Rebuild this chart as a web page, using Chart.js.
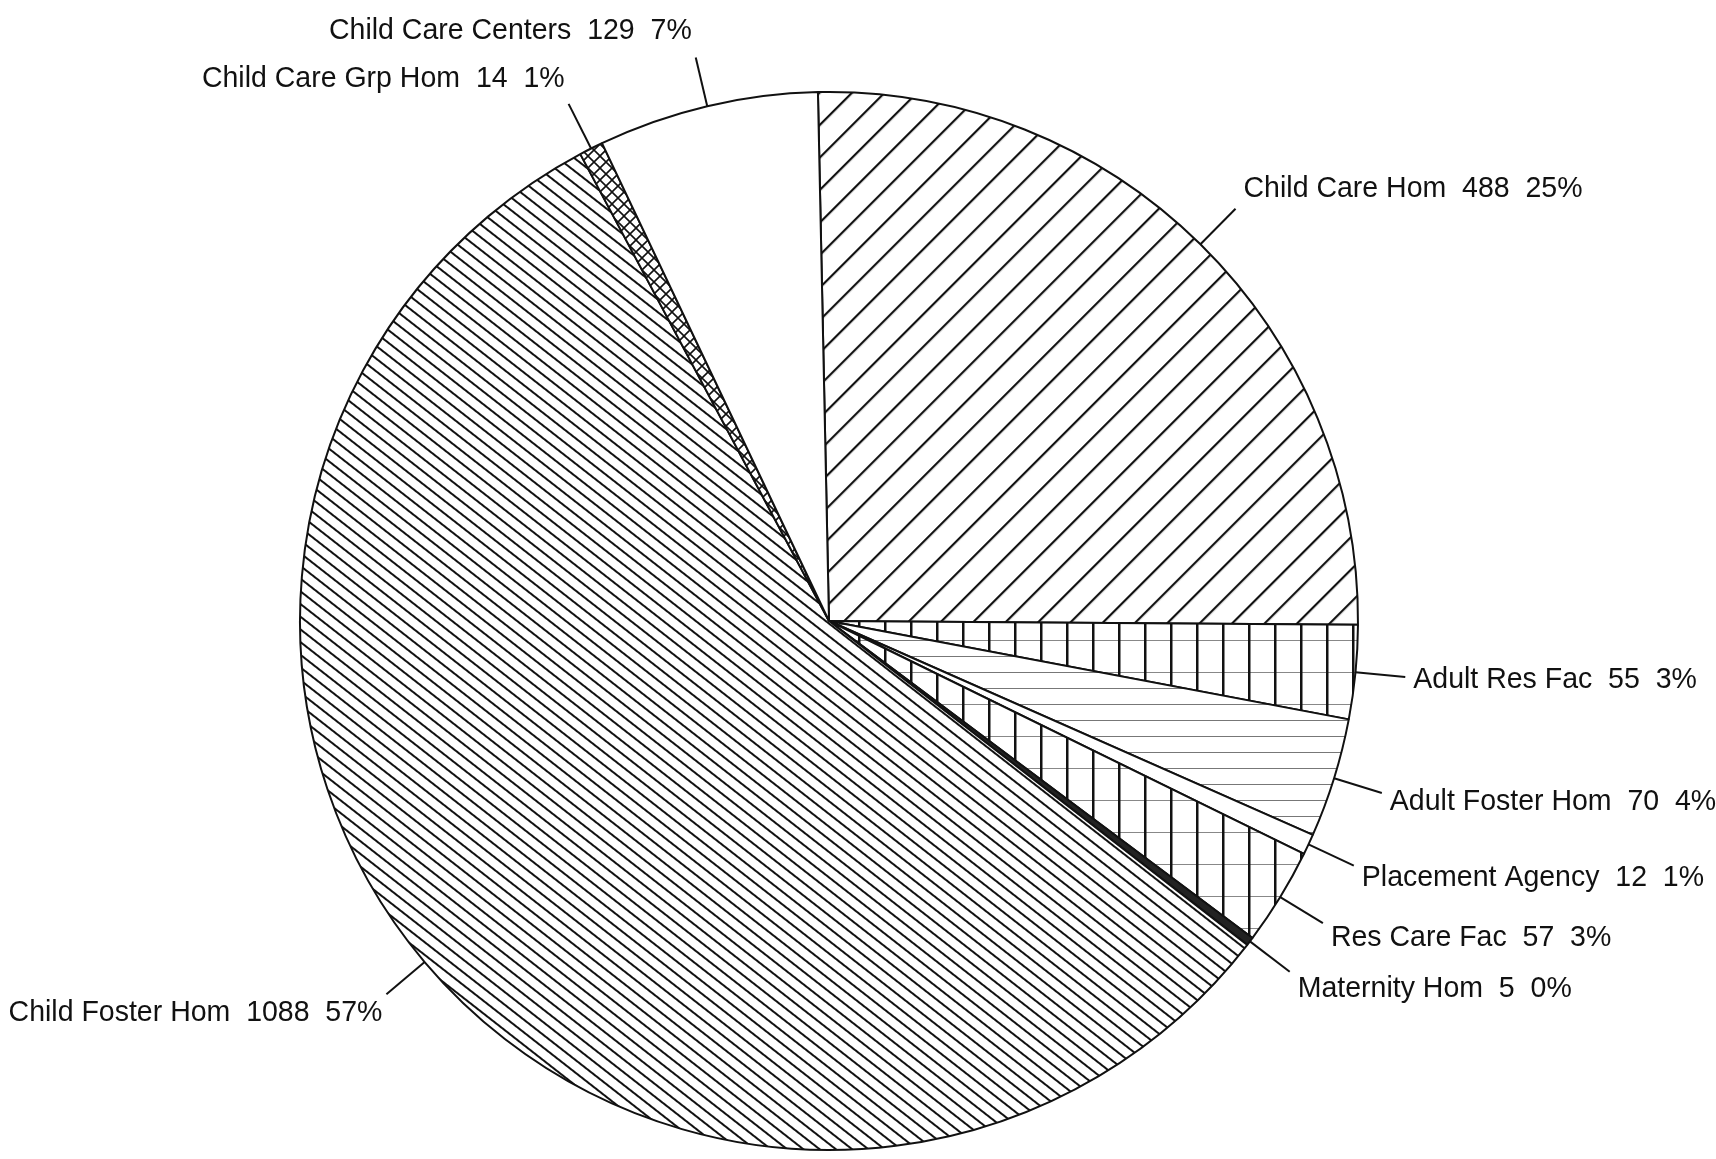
<!DOCTYPE html>
<html>
<head>
<meta charset="utf-8">
<script src="https://cdn.jsdelivr.net/npm/chart.js@4"></script>
<style>
  html, body { margin: 0; padding: 0; background: #fff; }
  #wrap { width: 1716px; height: 1159px; position: relative; }
</style>
</head>
<body>
<div id="wrap"><canvas id="c"></canvas></div>
<script>
const categories = ['Child Care Hom', 'Adult Res Fac', 'Adult Foster Hom', 'Placement Agency', 'Res Care Fac', 'Maternity Hom', 'Child Foster Hom', 'Child Care Grp Hom', 'Child Care Centers'];
const values = [488, 55, 70, 12, 57, 5, 1088, 14, 129];
const patternKinds = ['diagUp', 'grid', 'hlines', 'blank', 'grid', 'dense', 'diagDown', 'cross', 'blank'];

function makeTile(w, h, draw) {
  const c = document.createElement('canvas');
  c.width = w; c.height = h;
  const g = c.getContext('2d');
  g.fillStyle = '#fff';
  g.fillRect(0, 0, w, h);
  draw(g, w, h);
  return c;
}
function stripes(spacing, lw, color, angleDeg) {
  const tile = makeTile(8, spacing, (g, w, h) => {
    g.fillStyle = color;
    g.fillRect(0, 0, w, lw);
  });
  const p = document.createElement('canvas').getContext('2d').createPattern(tile, 'repeat');
  p.setTransform(new DOMMatrix().rotate(angleDeg));
  return p;
}
function makePattern(kind) {
  const ctx = document.createElement('canvas').getContext('2d');
  if (kind === 'diagUp') return stripes(23, 2.2, '#111', -45);
  if (kind === 'diagDown') return stripes(10.5, 2, '#111', 38);
  if (kind === 'hlines') return stripes(16, 1, '#777', 0);
  if (kind === 'grid') {
    const tile = makeTile(26, 32, (g, w, h) => {
      g.fillStyle = '#888'; g.fillRect(0, 0, w, 1);
      g.fillStyle = '#111'; g.fillRect(0, 0, 2.5, h);
    });
    return ctx.createPattern(tile, 'repeat');
  }
  if (kind === 'cross') {
    const tile = makeTile(12, 12, (g, w, h) => {
      g.strokeStyle = '#111'; g.lineWidth = 1.6;
      g.beginPath();
      g.moveTo(-1, -1); g.lineTo(w + 1, h + 1);
      g.moveTo(w + 1, -1); g.lineTo(-1, h + 1);
      g.stroke();
    });
    return ctx.createPattern(tile, 'repeat');
  }
  if (kind === 'dense') return '#222';
  return '#fff';
}

const total = values.reduce((a, b) => a + b, 0);
const labelTexts = categories.map((c, i) => `${c}  ${values[i]}  ${Math.round(values[i] / total * 100)}%`);

const leaderPlugin = {
  id: 'leaders',
  afterDatasetsDraw(chart) {
    const ctx = chart.ctx;
    const meta = chart.getDatasetMeta(0);
    const LEAD = 50, GAP_R = 8, GAP_L = 4, VOFF = 28;
    ctx.save();
    ctx.strokeStyle = '#111';
    ctx.lineWidth = 2;
    ctx.fillStyle = '#111';
    ctx.font = '30px "Liberation Sans Narrow", "Liberation Sans", Arial, sans-serif';
    ctx.textBaseline = 'middle';
    meta.data.forEach((arc, i) => {
      const p = arc.getProps(['x', 'y', 'startAngle', 'endAngle', 'outerRadius'], true);
      const mid = (p.startAngle + p.endAngle) / 2;
      const cx = Math.cos(mid), sy = Math.sin(mid);
      const x0 = p.x + p.outerRadius * cx, y0 = p.y + p.outerRadius * sy;
      const x1 = p.x + (p.outerRadius + LEAD) * cx, y1 = p.y + (p.outerRadius + LEAD) * sy;
      ctx.beginPath();
      ctx.moveTo(x0, y0);
      ctx.lineTo(x1, y1);
      ctx.stroke();
      const right = cx >= 0;
      ctx.textAlign = right ? 'left' : 'right';
      ctx.save();
      ctx.translate(right ? x1 + GAP_R : x1 - GAP_L, y1 + sy * VOFF);
      ctx.scale(0.95, 1);
      ctx.fillText(labelTexts[i], 0, 0);
      ctx.restore();
    });
    ctx.restore();
  }
};

new Chart(document.getElementById('c'), {
  type: 'pie',
  data: {
    labels: categories,
    datasets: [{
      data: values,
      backgroundColor: patternKinds.map(makePattern),
      borderColor: '#111',
      borderWidth: 2,
      hoverOffset: 0
    }]
  },
  options: {
    responsive: true,
    maintainAspectRatio: false,
    animation: false,
    rotation: -1.2,
    layout: { padding: { top: 91, bottom: 8, left: 0, right: 58 } },
    plugins: {
      legend: { display: false },
      tooltip: { enabled: false }
    }
  },
  plugins: [leaderPlugin]
});
</script>
</body>
</html>
